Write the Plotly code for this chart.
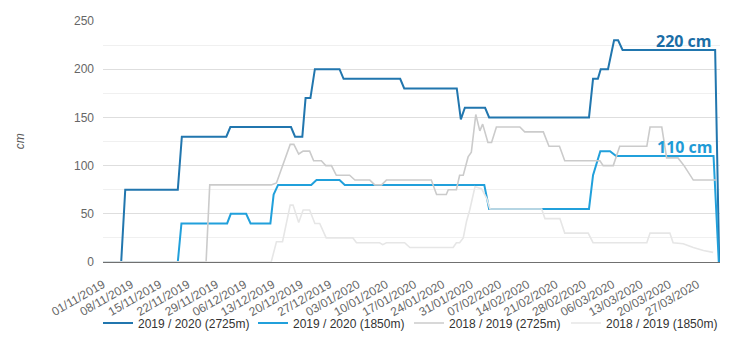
import pandas as pd
import plotly.graph_objects as go

# ---- data (day offsets from 01/11/2019, snow depth in cm) ----
base = pd.Timestamp("2019-11-01")

s1_name = "2019 / 2020 (2725m)"
s1_days = [0, 4.5, 5.5, 18.5, 19.5, 30.5, 31.5, 46.5, 47.5, 49.3, 50.1, 51.3, 52.4, 58.5, 59.5,
           73.5, 74.5, 87.5, 88.5, 89.5, 94.5, 95.5, 120.2, 121.2, 122.4, 123.1, 124.9, 126.4,
           127.4, 128.5, 151.4, 152.4]
s1_vals = [0, 0, 75, 75, 130, 130, 140, 140, 130, 130, 170, 170, 200, 200, 190,
           190, 180, 180, 148, 160, 160, 150, 150, 190, 190, 200, 200, 230,
           230, 220, 220, 0]

s2_name = "2019 / 2020 (1850m)"
s2_days = [0, 18.5, 19.4, 30.7, 31.6, 35.4, 36.5, 41.4, 42.2, 43.3, 51.5, 52.8, 58.5, 59.8,
           94.3, 95.5, 120.2, 121.2, 123.0, 125.4, 126.9, 151.0, 152.3]
s2_vals = [0, 0, 40, 40, 50, 50, 40, 40, 70, 80, 80, 85, 85, 80,
           80, 55, 55, 90, 115, 115, 110, 110, 0]

s3_name = "2018 / 2019 (2725m)"
s3_days = [0, 25.5, 26.4, 41.6, 42.9, 46.3, 47.2, 48.4, 49.5, 51.1, 52.1, 54.0, 55.1, 56.5,
           57.7, 61.0, 62.3, 66.0, 67.2, 68.9, 70.1, 81.2, 82.5, 84.9, 85.4, 87.4, 88.2, 89.1,
           90.3, 91.1, 92.2, 93.2, 93.9, 95.2, 96.1, 97.3, 103.1, 104.3, 108.9, 110.3, 112.9,
           114.2, 122.9, 123.7, 126.2, 127.8, 134.5, 135.3, 138.2, 139.4, 142.2, 143.7, 146.0,
           151.6]
s3_vals = [0, 0, 80, 80, 82, 122, 122, 112, 115, 115, 105, 105, 100, 100,
           90, 90, 85, 85, 80, 80, 85, 85, 70, 70, 75, 75, 90, 90,
           109, 114, 153, 136, 143, 124, 124, 140, 140, 135, 135, 120, 120,
           105, 105, 100, 100, 120, 120, 140, 140, 108, 108, 100, 85,
           85]

s4_name = "2018 / 2019 (1850m)"
s4_days = [0, 41.6, 42.9, 44.4, 46.3, 47.0, 48.4, 49.5, 51.1, 52.4, 53.6, 55.2, 61.8, 62.7,
           68.4, 69.2, 70.1, 74.6, 75.9, 86.6, 87.4, 88.2, 89.1, 89.9, 90.7, 92.0, 93.6, 94.9,
           95.7, 108.5, 109.3, 113.0, 114.2, 120.0, 121.2, 134.5, 135.3, 140.2, 141.0, 143.5,
           146.0, 148.5, 150.9]
s4_vals = [0, 0, 21, 21, 59, 59, 41, 54, 54, 40, 40, 25, 25, 20,
           20, 18, 20, 20, 15, 15, 20, 20, 25, 42, 54, 78, 76, 66,
           55, 55, 45, 45, 30, 30, 20, 20, 30, 30, 20, 19,
           15, 12, 10]

tick_labels = ["01/11/2019", "08/11/2019", "15/11/2019", "22/11/2019", "29/11/2019",
               "06/12/2019", "13/12/2019", "20/12/2019", "27/12/2019", "03/01/2020",
               "10/01/2020", "17/01/2020", "24/01/2020", "31/01/2020", "07/02/2020",
               "14/02/2020", "21/02/2020", "28/02/2020", "06/03/2020", "13/03/2020",
               "20/03/2020", "27/03/2020"]
y_ticks = [0, 50, 100, 150, 200, 250]


def to_dates(days):
    return [base + pd.Timedelta(days=d) for d in days]


tick_vals = [pd.to_datetime(t, format="%d/%m/%Y") for t in tick_labels]

series = [
    (s1_name, s1_days, s1_vals, "#2176ae", 2),
    (s2_name, s2_days, s2_vals, "#21a0db", 2),
    (s3_name, s3_days, s3_vals, "#cbcbcb", 1.6),
    (s4_name, s4_days, s4_vals, "#e6e6e6", 1.6),
]
legend_ids = ["legend", "legend2", "legend3", "legend4"]
legend_x_px = [98, 253, 409, 566]  # left edge of each legend entry (px)

fig = go.Figure()
for (name, d, v, col, w), lg in zip(series, legend_ids):
    fig.add_trace(go.Scatter(x=to_dates(d), y=v, mode="lines", name=name, legend=lg,
                             line=dict(color=col, width=w)))

font_family = "Liberation Sans, Arial, sans-serif"

fig.add_annotation(x=to_dates([s1_days[-2]])[0], y=s1_vals[-2], xref="x", yref="y",
                   text="<b>220 cm</b>", showarrow=False, xanchor="right", yanchor="bottom",
                   xshift=-1, yshift=-4,
                   font=dict(family="Open Sans, sans-serif", size=16, color="#1b6ea6"))
fig.add_annotation(x=to_dates([s2_days[-2]])[0], y=s2_vals[-2], xref="x", yref="y",
                   text="<b>110 cm</b>", showarrow=False, xanchor="right", yanchor="bottom",
                   xshift=1, yshift=-4,
                   font=dict(family="Open Sans, sans-serif", size=16, color="#1f9bd6"))
fig.add_annotation(x=-0.135, y=0.5, xref="paper", yref="paper", text="<i>cm</i>",
                   showarrow=False, textangle=-90, xanchor="center", yanchor="middle",
                   font=dict(family=font_family, size=12, color="#555555"))

legend_layout = {}
for lg, px in zip(legend_ids, legend_x_px):
    legend_layout[lg] = dict(orientation="h", xref="container", x=px / 740, xanchor="left",
                             yref="container", y=21 / 344, yanchor="middle",
                             font=dict(family=font_family, size=12, color="#333333"),
                             itemwidth=30, bgcolor="rgba(0,0,0,0)")

fig.update_layout(
    width=740, height=344,
    margin=dict(l=103, r=20, t=21, b=82, autoexpand=False),
    plot_bgcolor="white", paper_bgcolor="white",
    font=dict(family=font_family, size=12, color="#666666"),
    showlegend=True,
    hovermode=False,
    **legend_layout,
)
fig.update_xaxes(
    range=[base, base + pd.Timedelta(days=152.6)],
    tickvals=tick_vals, ticktext=tick_labels, tickangle=-30,
    showgrid=False, showline=True, linecolor="#707070", linewidth=1,
    layer="below traces", ticks="", zeroline=False, ticklabelstandoff=10,
    tickfont=dict(family=font_family, size=12, color="#666666"),
    automargin=False,
)
fig.update_yaxes(
    range=[0, 250], tickvals=y_ticks, showgrid=True, gridcolor="#dedede", gridwidth=1,
    minor=dict(dtick=25, showgrid=True, gridcolor="#f0f0f0", gridwidth=1),
    zeroline=False, showline=False, ticks="", layer="below traces", ticklabelstandoff=8,
    tickfont=dict(family=font_family, size=12, color="#666666"),
    automargin=False,
)

fig.write_html("out.html")
